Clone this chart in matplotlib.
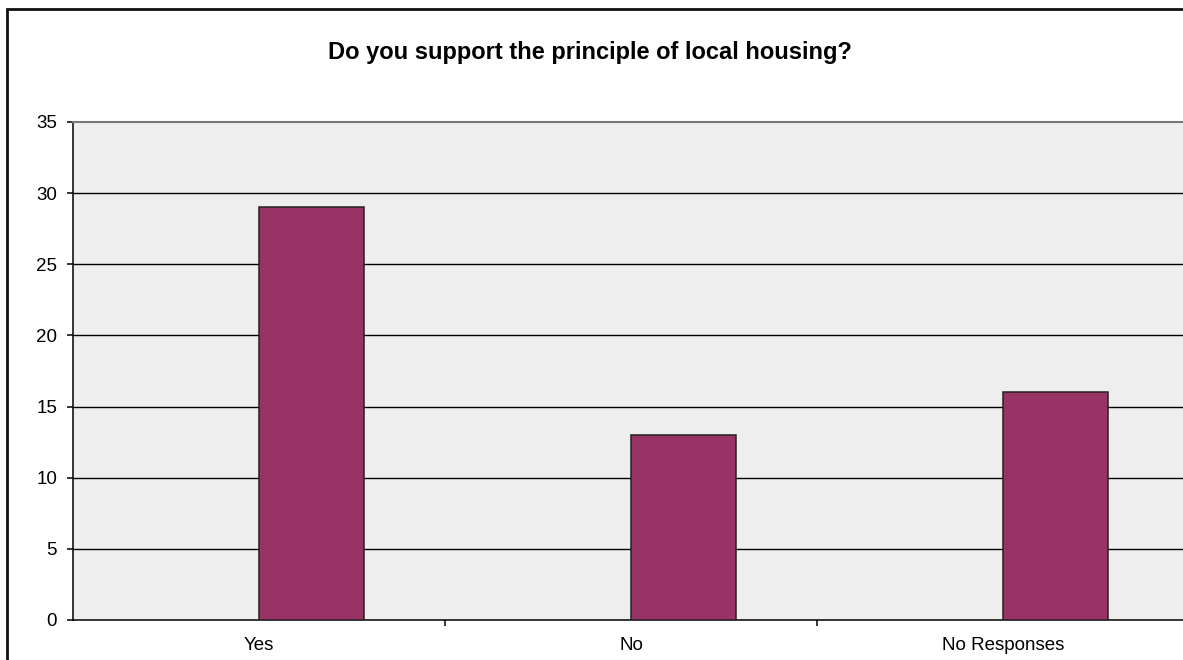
import matplotlib.pyplot as plt
from matplotlib.patches import Rectangle
import numpy as np

plt.rcParams['font.family'] = ['Liberation Sans', 'DejaVu Sans']

categories = ['Yes', 'No', 'No Responses']
counts = [29, 13, 16]
y_ticks = [0, 5, 10, 15, 20, 25, 30, 35]

W, H = 1183, 660
fig = plt.figure(figsize=(W / 100, H / 100), dpi=100)

# outer chart frame, cut off at right and bottom edges
fig.patches.append(Rectangle((6.5 / W, -0.05), 1.2, 1 - 8.5 / H + 0.05,
                             transform=fig.transFigure, fill=False,
                             edgecolor='#111111', linewidth=2.0, zorder=0))

left, right = 73 / W, 1189 / W
bottom, top = 1 - 620 / H, 1 - 122 / H
ax = fig.add_axes([left, bottom, right - left, top - bottom])
ax.set_facecolor('#eeeeee')

x = np.arange(len(categories))
# bars start at the category centre
ax.bar(x, counts, width=0.283, align='edge', color='#993366',
       edgecolor='#222222', linewidth=1.1, zorder=3)

ax.set_xlim(-0.5, len(categories) - 0.5)
ax.set_ylim(0, 35)
ax.set_yticks(y_ticks)
ax.set_yticklabels([str(v) for v in y_ticks], fontsize=13.5)
for v in y_ticks[1:-1]:
    ax.axhline(v, color='black', linewidth=1.0, zorder=1)

# category labels centered, tick marks on the category boundaries
ax.set_xticks(x)
ax.set_xticklabels(categories, fontsize=13.5)
ax.tick_params(axis='x', length=0, pad=12)
ax.set_xticks(np.arange(0.5, len(categories) - 0.5), minor=True)
ax.tick_params(axis='x', which='minor', length=4.5, width=1.1, direction='out')
ax.tick_params(axis='y', length=4.5, width=1.1, direction='out', pad=7)

ax.spines['top'].set_color('#777777')
ax.spines['top'].set_linewidth(1.5)
ax.spines['right'].set_visible(False)
ax.spines['left'].set_linewidth(1.1)
ax.spines['bottom'].set_linewidth(1.1)

fig.text(590 / W, 1 - 52 / H, 'Do you support the principle of local housing?',
         ha='center', va='center', fontsize=17, fontweight='bold')

fig.savefig('out.png', dpi=100)
